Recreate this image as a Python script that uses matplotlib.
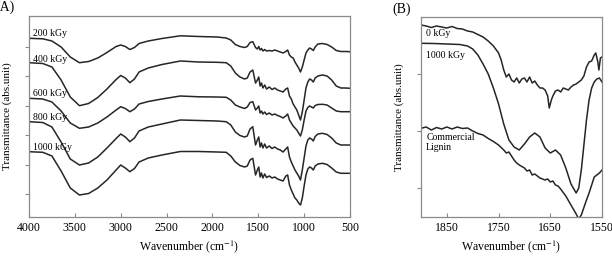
import numpy as np
import matplotlib.pyplot as plt

plt.rcParams['font.family'] = ['Liberation Serif', 'DejaVu Serif']
plt.rcParams['mathtext.fontset'] = 'stix'

# ---- panel A: full FTIR spectra (arbitrary transmittance units) ----
wn_a = [4000, 3850, 3750, 3650, 3550, 3450, 3350, 3250, 3150, 3050, 3000,
        2950, 2900, 2850, 2800, 2700, 2550, 2350, 2150, 1950, 1850,
        1800, 1750, 1700, 1650, 1620, 1590, 1560, 1530, 1510, 1495,
        1480, 1465, 1450, 1430, 1410, 1380, 1350, 1320, 1290, 1260,
        1230, 1200, 1180, 1160, 1140, 1120, 1100, 1080, 1060, 1040,
        1020, 1000, 980, 960, 940, 920, 900, 880, 850, 800,
        750, 700, 650, 600, 550, 500]

t_200 = [178.7, 178.2, 176, 170, 160, 154.3, 155.5, 159, 164.5, 170.5, 172,
         170.5, 167.5, 169.5, 173.5, 176, 178.5, 181.2, 180.5, 180, 179,
         177, 172.5, 170.5, 169.5, 170.5, 174.5, 175.3, 169.5, 168, 170.5,
         167, 168.5, 166, 167.5, 166, 166.5, 166, 167, 166, 165,
         164, 165.5, 167, 162, 160, 159, 155, 152, 149, 145,
         150, 157, 164, 167, 169, 168, 166.5, 170, 173, 173.5,
         172.5, 170, 166.5, 165.5, 165.5, 165.3]
t_400 = [154.3, 153.5, 150, 137, 120, 111.3, 113.5, 119.5, 128, 137.5, 141.5,
         139, 134.3, 138, 145, 149, 152.5, 156, 155, 154.7, 154.3,
         151, 144, 140, 138, 139, 145, 147, 134, 137, 140,
         131, 134, 129, 132, 128, 130, 127.5, 129, 127, 126,
         125, 128, 129, 121, 118, 113, 110, 107, 102, 97,
         105, 117, 129, 135, 138, 137, 135, 139, 141, 142,
         141, 137, 131, 129, 129, 128.7]
t_600 = [118.7, 118, 115, 106, 94, 88.7, 90, 94, 100, 107, 110.3,
         108.5, 105.3, 108, 113, 115.5, 118, 121, 120.2, 120, 119.7,
         117, 112, 110, 108.5, 110, 114.5, 115.3, 107, 109, 111,
         104, 106, 103, 105, 102.5, 104, 102, 103, 101.5, 100.5,
         99, 101, 103, 97, 94, 91, 89, 87, 84, 81,
         87, 97, 106, 109.5, 111, 110, 109, 111.5, 112.5, 112.7,
         112, 109, 106, 105.3, 105.3, 105.3]
t_800 = [95.3, 94.5, 90, 75, 58, 52, 54, 60, 69, 78.5, 83,
         80, 75.3, 79, 86, 90, 93, 97, 96.5, 96, 95.3,
         92, 85, 81.5, 80, 81, 88, 90.3, 72, 77, 80,
         70, 74, 69, 73, 69, 71, 68.5, 70, 68, 67,
         65, 68, 70, 60, 55, 51, 47, 44, 41, 37,
         47, 59, 71, 77, 79, 78, 76, 80.5, 83, 83.7,
         82.5, 79, 74, 72, 72, 72]
t_1000 = [65.3, 64.7, 61, 46, 29, 22, 23.5, 29, 37, 47, 52,
          49, 45.3, 48.5, 55, 59, 62, 65.5, 65.5, 65, 64.7,
          61, 55, 51.5, 50, 51, 57, 58.7, 42, 47, 50,
          40, 44, 39, 43, 39.5, 41, 39, 40, 38, 37,
          36, 41, 42, 32, 27, 23, 19, 17, 14, 12,
          19, 31, 42, 48, 50, 49, 47, 51, 53, 53.7,
          52.5, 49, 45, 43.7, 43.7, 43.7]

labels_a = ['200 kGy', '400 kGy', '600 kGy', '800 kGy', '1000 kGy']
label_y_a = [183, 157.5, 124, 100, 70]

# ---- panel B: 1900-1550 cm-1 region ----
wn_0 = [1900, 1890, 1880, 1870, 1860, 1850, 1840, 1830, 1820, 1810, 1800,
        1790, 1780, 1770, 1760, 1750, 1745, 1740, 1735, 1730, 1725, 1720,
        1715, 1710, 1705, 1700, 1695, 1690, 1685, 1680, 1675, 1670, 1665,
        1660, 1655, 1652, 1648, 1645, 1640, 1635, 1630, 1625, 1620, 1615,
        1610, 1605, 1600, 1595, 1590, 1585, 1580, 1575, 1570, 1565, 1562,
        1558, 1556, 1553, 1550]
t_0 = [192, 191, 189.5, 191, 190, 189, 190.5, 188.5, 188, 186, 185,
       182.5, 180, 176, 171, 164, 157, 147, 140, 143, 137, 135,
       139, 134, 138, 139, 135, 140, 134, 136, 132, 129, 129,
       127, 121, 109, 117, 121, 126, 127, 125, 129, 128, 127,
       130, 132, 133, 135, 137, 141, 150, 155, 156, 162, 164,
       155, 147, 159, 160]

wn_1000 = [1900, 1875, 1850, 1825, 1810, 1800, 1790, 1780, 1770, 1760, 1750,
           1740, 1730, 1720, 1710, 1700, 1690, 1680, 1670, 1660, 1650,
           1640, 1630, 1620, 1610, 1600, 1595, 1590, 1580, 1575, 1570,
           1565, 1560, 1555, 1550]
t_1000b = [173.7, 173.5, 173, 172.5, 171, 168, 162, 153, 143, 129, 113,
           93, 77, 70, 67, 73, 80, 84, 80, 69, 64,
           67, 62, 49, 33, 24, 29, 47, 97, 117, 129,
           135, 138, 139, 135]

wn_lig = [1900, 1890, 1880, 1870, 1860, 1850, 1840, 1830, 1820, 1810, 1800,
          1790, 1780, 1770, 1760, 1750, 1740, 1735, 1730, 1720, 1715, 1710,
          1700, 1695, 1690, 1685, 1680, 1670, 1660, 1655, 1650, 1645, 1640,
          1635, 1630, 1620, 1610, 1600, 1595, 1590, 1580, 1575, 1570, 1565,
          1560, 1555, 1550]
t_lig = [88.7, 90, 87, 89.5, 88, 90, 88, 90, 88.5, 89, 86,
         83.5, 82, 78.5, 75.5, 72, 67, 64, 65, 57, 54, 52,
         49, 46, 47, 42, 43, 39, 37, 38, 35, 36, 32,
         31, 28, 21, 12, 3, -2, 2, 17, 24, 32, 40,
         42, 44, 47]

line_kw = dict(color='#262626', lw=1.1)

fig = plt.figure(figsize=(6.12, 2.56), dpi=100)
ax1 = fig.add_axes([29 / 612, 39 / 256, 321 / 612, 201 / 256])
ax2 = fig.add_axes([421 / 612, 39 / 256, 181 / 612, 200 / 256])

for series in [t_200, t_400, t_600, t_800, t_1000]:
    ax1.plot(wn_a, series, **line_kw)
for lab, ly in zip(labels_a, label_y_a):
    ax1.text(3955, ly, lab, fontsize=7, va='center', ha='left')

ax1.set_xlim(4000, 500)
ax1.set_ylim(0, 201)
ax1.set_xticks(np.arange(4000, 499, -500))
ax1.set_yticks([23, 52.5, 82, 111.5, 141, 170.5])
ax1.set_yticklabels([])

ax2.plot(wn_0, t_0, **line_kw)
ax2.plot(wn_1000, t_1000b, **line_kw)
ax2.plot(wn_lig, t_lig, **line_kw)
ax2.text(1890, 184, '0 kGy', fontsize=7, va='center', ha='left')
ax2.text(1890, 162, '1000 kGy', fontsize=7, va='center', ha='left')
ax2.text(1890, 80, 'Commercial', fontsize=7, va='center', ha='left')
ax2.text(1890, 69, 'Lignin', fontsize=7, va='center', ha='left')

ax2.set_xlim(1900, 1550)
ax2.set_ylim(0, 200)
ax2.set_xticks([1850, 1750, 1650, 1550])
ax2.set_yticks([29, 86, 143])
ax2.set_yticklabels([])

for ax in (ax1, ax2):
    for s in ax.spines.values():
        s.set_color('#8a8a8a')
        s.set_linewidth(0.9)
    ax.tick_params(axis='x', direction='in', length=3, labelsize=8.5,
                   color='#8a8a8a', pad=3.5)
    ax.tick_params(axis='y', direction='out', length=3, color='#8a8a8a')
    ax.set_xlabel('Wavenumber (cm$^{-1}$)', fontsize=8.5, labelpad=3.5)
    ax.set_ylabel('Transmittance (abs.unit)', fontsize=8, labelpad=6)

fig.text(15 / 612, 1 - 7 / 256, '(A)', fontsize=10, ha='right', va='center')
fig.text(402 / 612, 1 - 9 / 256, '(B)', fontsize=10, ha='center', va='center')

fig.savefig('out.png', dpi=100)
